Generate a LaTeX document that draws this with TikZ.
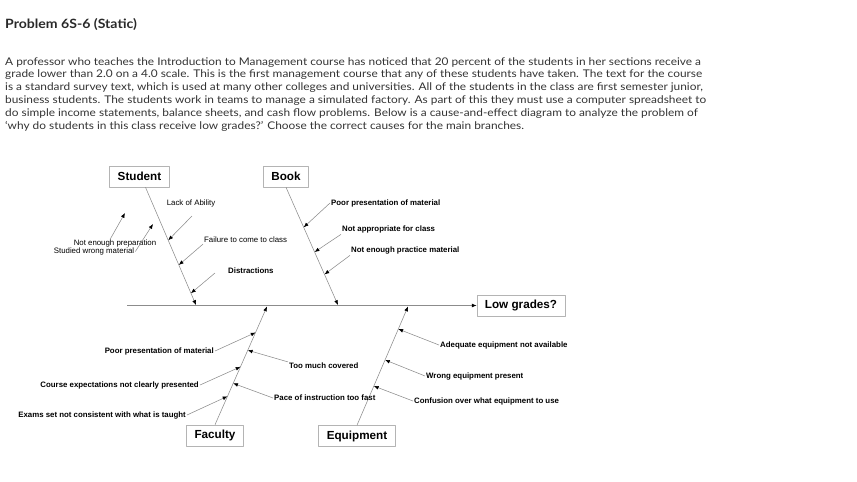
\documentclass[tikz,border=0pt]{standalone}
\usepackage{fontspec}
\setmainfont{Lato}[FakeStretch=1.12]
\newfontfamily\titlefont{Lato}[FakeStretch=1.1]
\newfontfamily\arialfont{Liberation Sans}
\usetikzlibrary{arrows.meta,calc}
\definecolor{textgray}{HTML}{333333}
\definecolor{bonegray}{HTML}{8C8C8C}
\definecolor{boxgray}{HTML}{B4B4B4}
\begin{document}
\begin{tikzpicture}[x=1pt,y=-1pt,line join=round,>={Latex[length=4.8pt,width=3.8pt,color=black]}]
		\def\lineskipbody{12.85}
		\tikzset{boxlabel/.style={draw=boxgray,line width=.6pt,font=\arialfont\bfseries\fontsize{11.7}{13}\selectfont,minimum height=21pt,inner xsep=8pt}}
		\tikzset{cause/.style={font=\arialfont\fontsize{7.85}{9}\selectfont,inner sep=1pt}}
		\tikzset{boldcause/.style={font=\arialfont\bfseries\fontsize{7.85}{9}\selectfont,inner sep=1pt}}
		\tikzset{bone/.style={draw=bonegray,line width=.55pt,->}}
		\useasboundingbox (0,0) rectangle (857,482);
		% question text
		\node[anchor=base west,inner sep=0pt,text=textgray!80!black,font=\titlefont\bfseries\fontsize{12.8}{14}\selectfont] (title) at (5,28.3) {Problem 6S-6 (Static)};
		\begin{scope}[every node/.style={anchor=base west,inner sep=0pt,text=textgray,font=\fontsize{10.6}{12}\selectfont}]
		\node (l1) at (5,65) {A professor who teaches the Introduction to Management course has noticed that 20 percent of the students in her sections receive a};
		\node (l2) at (5,65+\lineskipbody) {grade lower than 2.0 on a 4.0 scale. This is the first management course that any of these students have taken. The text for the course};
		\node (l3) at (5,65+2*\lineskipbody) {is a standard survey text, which is used at many other colleges and universities. All of the students in the class are first semester junior,};
		\node (l4) at (5,65+3*\lineskipbody) {business students. The students work in teams to manage a simulated factory. As part of this they must use a computer spreadsheet to};
		\node (l5) at (5,65+4*\lineskipbody) {do simple income statements, balance sheets, and cash flow problems. Below is a cause-and-effect diagram to analyze the problem of};
		\node (l6) at (5,65+5*\lineskipbody) {‘why do students in this class receive low grades?’ Choose the correct causes for the main branches.};
		\end{scope}
		% head and main bone
		\node[boxlabel] (low) at (521,305.5) {Low grades?};
		\coordinate (mainT) at (127,305.5);
		\draw[bone] (mainT) -- (low.west);
		% branch boxes
		\node[boxlabel] (stu) at (139.5,176.5) {Student};
		\node[boxlabel] (book) at (286,176.5) {Book};
		\node[boxlabel] (fac) at (215,435.5) {Faculty};
		\node[boxlabel] (equ) at (357,436) {Equipment};
		\coordinate (s0) at ([xshift=6pt]stu.south);
		\coordinate (sE) at (196,305);
		\coordinate (b0) at (book.south);
		\coordinate (bE) at (338,305);
		\coordinate (f0) at (fac.north);
		\coordinate (fE) at (267,306.5);
		\coordinate (e0) at (equ.north);
		\coordinate (eE) at (408,306.5);
		\draw[bone] (s0) -- (sE);
		\draw[bone] (b0) -- (bE);
		\draw[bone] (f0) -- (fE);
		\draw[bone] (e0) -- (eE);
		% student
		\node[cause] (lack) at (191,203) {Lack of Ability};
		\node[cause,anchor=west] (fail) at (203,240) {Failure to come to class};
		\node[boldcause,anchor=west] (dist) at (227,271) {Distractions};
		\node[cause] (prep) at (115,243) {Not enough preparation};
		\node[cause] (wrong) at (94,251.5) {Studied wrong material};
		\coordinate (lackT) at (192,216);
		\coordinate (distT) at (215,273);
		\coordinate (prepT) at (110,239.5);
		\coordinate (prepH) at (125,213);
		\coordinate (wrongH) at (153,224);
		\draw[bone] (lackT) -- ($(s0)!.45!(sE)$);
		\draw[bone] (fail.south west) -- ($(s0)!.66!(sE)$);
		\draw[bone] (distT) -- ($(s0)!.9!(sE)$);
		\draw[bone] (prepT) -- (prepH);
		\draw[bone] (wrong.east) -- (wrongH);
		% book
		\node[boldcause,anchor=west] (bpoor) at (330,203) {Poor presentation of material};
		\node[boldcause,anchor=west] (bapp) at (341,229.5) {Not appropriate for class};
		\node[boldcause,anchor=west] (bprac) at (350,250.5) {Not enough practice material};
		\draw[bone] (bpoor.west) -- ($(b0)!.34!(bE)$);
		\draw[bone] (bapp.south west) -- ($(b0)!.55!(bE)$);
		\draw[bone] (bprac.south west) -- ($(b0)!.74!(bE)$);
		% faculty
		\node[boldcause,anchor=east] (fpoor) at (215,351) {Poor presentation of material};
		\node[boldcause,anchor=east] (fexp) at (200,385) {Course expectations not clearly presented};
		\node[boldcause,anchor=east] (fexam) at (187,415) {Exams set not consistent with what is taught};
		\node[boldcause,anchor=west] (fmuch) at (288,366) {Too much covered};
		\node[boldcause,anchor=west] (fpace) at (273,398) {Pace of instruction too fast};
		\draw[bone] (fpoor.east) -- ($(f0)!.78!(fE)$);
		\draw[bone] (fexp.east) -- ($(f0)!.49!(fE)$);
		\draw[bone] (fexam.east) -- ($(f0)!.24!(fE)$);
		\draw[bone] (fmuch.north west) -- ($(f0)!.63!(fE)$);
		\draw[bone] (fpace.west) -- ($(f0)!.35!(fE)$);
		% equipment
		\node[boldcause,anchor=west] (eadeq) at (439,345) {Adequate equipment not available};
		\node[boldcause,anchor=west] (ewrong) at (425,376) {Wrong equipment present};
		\node[boldcause,anchor=west] (econf) at (413,401) {Confusion over what equipment to use};
		\draw[bone] (eadeq.west) -- ($(e0)!.81!(eE)$);
		\draw[bone] (ewrong.west) -- ($(e0)!.55!(eE)$);
		\draw[bone] (econf.west) -- ($(e0)!.33!(eE)$);
		\end{tikzpicture}
\end{document}
